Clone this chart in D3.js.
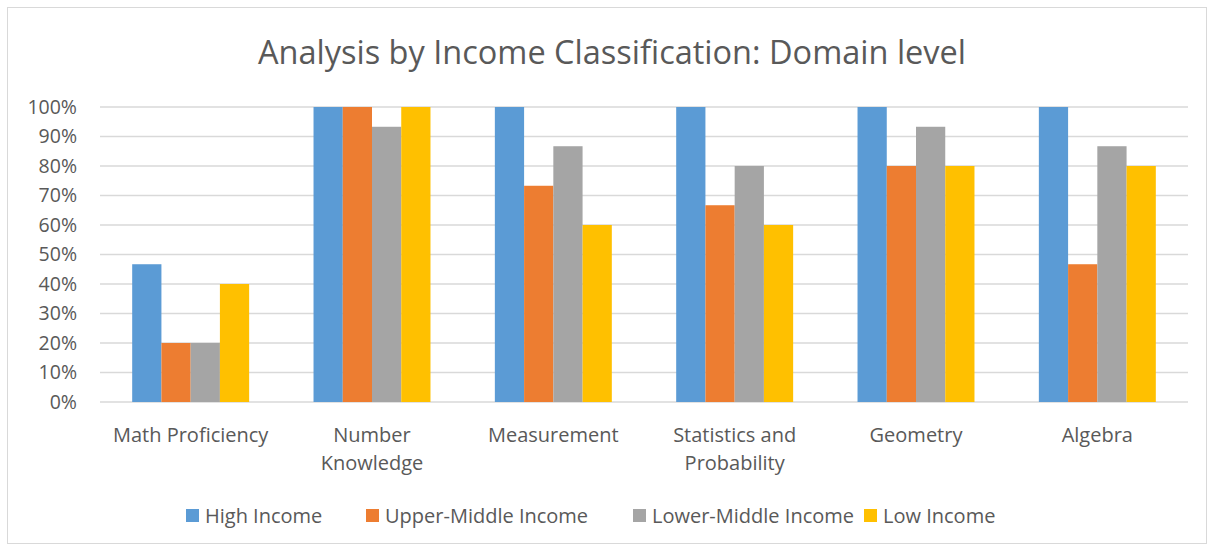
<!DOCTYPE html>
<html>
<head>
<meta charset="utf-8">
<script src="https://cdn.jsdelivr.net/npm/d3@7"></script>
<style>
  body { margin: 0; background: #fff; }
  text { font-family: "Open Sans", sans-serif; fill: #595959; }
</style>
</head>
<body>
<div id="chart"></div>
<script>
// data
const categories = ["Math Proficiency", "Number Knowledge", "Measurement", "Statistics and Probability", "Geometry", "Algebra"];
const seriesNames = ["High Income", "Upper-Middle Income", "Lower-Middle Income", "Low Income"];
const highIncome = [46.7, 100, 100, 100, 100, 100];
const upperMiddle = [20, 100, 73.3, 66.7, 80, 46.7];
const lowerMiddle = [20, 93.3, 86.7, 80, 93.3, 86.7];
const lowIncome = [40, 100, 60, 60, 80, 80];
const yTicks = [0, 10, 20, 30, 40, 50, 60, 70, 80, 90, 100];
const colors = ["#5B9BD5", "#ED7D31", "#A5A5A5", "#FFC000"];

const seriesValues = [highIncome, upperMiddle, lowerMiddle, lowIncome];

const W = 1213, H = 549;
const margin = { top: 107, right: 25, bottom: 147, left: 100 },
    width = W - margin.left - margin.right,
    height = H - margin.top - margin.bottom;

const root = d3.select("#chart")
    .append("svg")
    .attr("width", W)
    .attr("height", H);

// outer frame
root.append("rect")
    .attr("x", 7.5).attr("y", 7.5)
    .attr("width", W - 14).attr("height", H - 13)
    .attr("fill", "#fff")
    .attr("stroke", "#d9d9d9");

// title
root.append("text")
    .attr("x", 612)
    .attr("y", 64)
    .attr("text-anchor", "middle")
    .style("font-size", "32.5px")
    .text("Analysis by Income Classification: Domain level");

const svg = root.append("g")
    .attr("transform", "translate(" + margin.left + "," + margin.top + ")");

// scales
const x0 = d3.scaleBand().domain(categories).range([0, width])
    .paddingInner(0.355).paddingOuter(0.1775);
const x1 = d3.scaleBand().domain(seriesNames).range([0, x0.bandwidth()]);
const y = d3.scaleLinear().domain([0, 100]).range([height, 0]);

// gridlines
svg.append("g")
    .selectAll("line")
    .data(yTicks)
    .join("line")
    .attr("x1", 0).attr("x2", width)
    .attr("y1", d => y(d)).attr("y2", d => y(d))
    .attr("stroke", "#d9d9d9")
    .attr("stroke-width", 1.3);

// y labels
svg.append("g")
    .selectAll("text")
    .data(yTicks)
    .join("text")
    .attr("x", -23)
    .attr("y", d => y(d))
    .attr("dy", "0.35em")
    .attr("text-anchor", "end")
    .style("font-size", "19.5px")
    .text(d => d + "%");

// bars
const groups = svg.append("g")
    .selectAll("g")
    .data(categories)
    .join("g")
    .attr("transform", d => "translate(" + x0(d) + ",0)");

groups.selectAll("rect")
    .data((c, i) => seriesNames.map((s, j) => ({ s: s, v: seriesValues[j][i], j: j })))
    .join("rect")
    .attr("x", d => x1(d.s))
    .attr("width", x1.bandwidth())
    .attr("y", d => y(d.v))
    .attr("height", d => y(0) - y(d.v))
    .attr("fill", d => colors[d.j]);

// x labels (wrapped like the original)
const xLabelLines = {
    "Math Proficiency": ["Math Proficiency"],
    "Number Knowledge": ["Number", "Knowledge"],
    "Measurement": ["Measurement"],
    "Statistics and Probability": ["Statistics and", "Probability"],
    "Geometry": ["Geometry"],
    "Algebra": ["Algebra"]
};
svg.append("g")
    .selectAll("text")
    .data(categories)
    .join("text")
    .attr("text-anchor", "middle")
    .style("font-size", "20px")
    .attr("transform", d => "translate(" + (x0(d) + x0.bandwidth() / 2) + "," + (height + 40) + ")")
    .selectAll("tspan")
    .data(d => xLabelLines[d])
    .join("tspan")
    .attr("x", 0)
    .attr("dy", (d, i) => i === 0 ? 0 : 28)
    .text(d => d);

// legend
const legendX = [186, 366, 633, 864];
const legend = root.append("g")
    .selectAll("g")
    .data(seriesNames)
    .join("g")
    .attr("transform", (d, i) => "translate(" + legendX[i] + ",509)");
legend.append("rect")
    .attr("width", 13).attr("height", 13)
    .attr("fill", (d, i) => colors[i]);
legend.append("text")
    .attr("x", 19)
    .attr("y", 7)
    .attr("dy", "0.35em")
    .style("font-size", "20px")
    .text(d => d);
</script>
</body>
</html>
